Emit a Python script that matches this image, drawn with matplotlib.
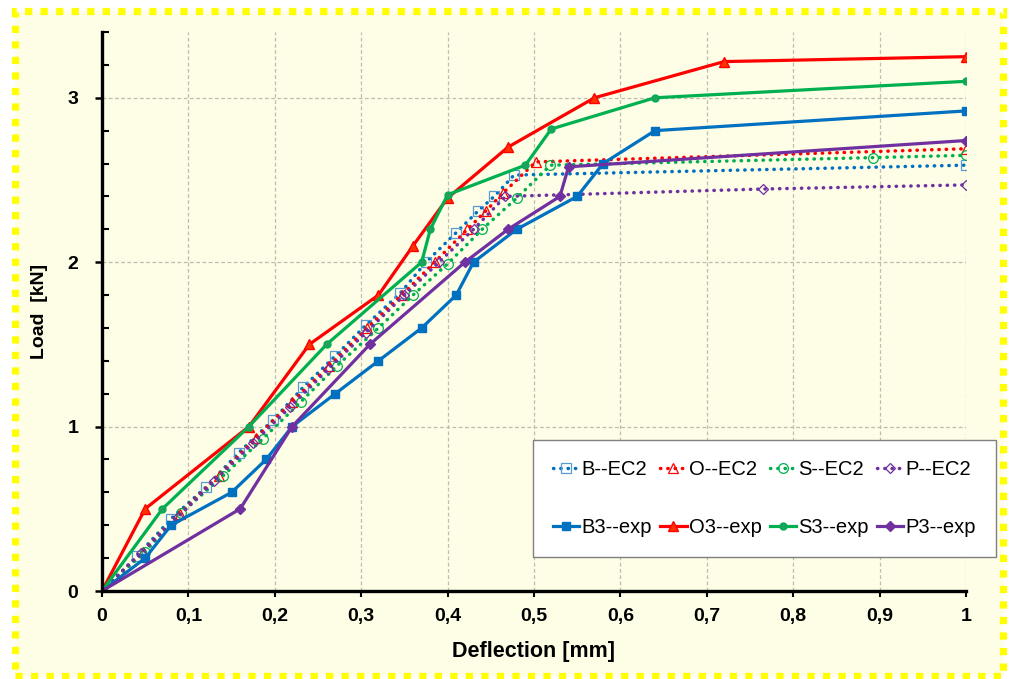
import matplotlib
matplotlib.use('Agg')
import matplotlib.pyplot as plt
from matplotlib.patches import Rectangle
from matplotlib.ticker import MultipleLocator, FuncFormatter

plt.rcParams['font.family'] = ['Liberation Sans', 'DejaVu Sans']

# experimental curves
b3_x = [0, 0.05, 0.08, 0.15, 0.19, 0.22, 0.27, 0.32, 0.37, 0.41, 0.43, 0.48, 0.55, 0.58, 0.64, 1.0]
b3_y = [0, 0.2, 0.4, 0.6, 0.8, 1.0, 1.2, 1.4, 1.6, 1.8, 2.0, 2.2, 2.4, 2.6, 2.8, 2.92]
o3_x = [0, 0.05, 0.17, 0.24, 0.32, 0.36, 0.40, 0.47, 0.57, 0.72, 1.0]
o3_y = [0, 0.5, 1.0, 1.5, 1.8, 2.1, 2.39, 2.7, 3.0, 3.22, 3.25]
s3_x = [0, 0.07, 0.17, 0.26, 0.37, 0.38, 0.40, 0.49, 0.52, 0.64, 1.0]
s3_y = [0, 0.5, 1.0, 1.5, 2.0, 2.2, 2.41, 2.59, 2.81, 3.0, 3.10]
p3_x = [0, 0.16, 0.22, 0.31, 0.42, 0.47, 0.53, 0.54, 1.0]
p3_y = [0, 0.5, 1.0, 1.5, 2.0, 2.2, 2.4, 2.58, 2.74]

# EC2 curves
b_ec2_x = [0, 0.04, 0.08, 0.12, 0.158, 0.198, 0.233, 0.27, 0.306, 0.345, 0.375, 0.41, 0.435, 0.454, 0.477, 1.0]
b_ec2_y = [0, 0.21, 0.44, 0.63, 0.84, 1.04, 1.24, 1.43, 1.62, 1.81, 2.0, 2.18, 2.31, 2.40, 2.53, 2.59]
o_ec2_x = [0, 0.047, 0.09, 0.135, 0.178, 0.22, 0.263, 0.307, 0.347, 0.385, 0.423, 0.444, 0.464, 0.502, 1.0]
o_ec2_y = [0, 0.24, 0.47, 0.70, 0.93, 1.15, 1.37, 1.60, 1.80, 2.00, 2.20, 2.31, 2.42, 2.61, 2.69]
s_ec2_x = [0, 0.05, 0.092, 0.14, 0.186, 0.23, 0.272, 0.32, 0.36, 0.40, 0.44, 0.48, 0.519, 0.892, 1.0]
s_ec2_y = [0, 0.24, 0.475, 0.70, 0.925, 1.15, 1.37, 1.60, 1.80, 1.99, 2.20, 2.39, 2.59, 2.636, 2.65]
p_ec2_x = [0, 0.045, 0.088, 0.13, 0.175, 0.218, 0.262, 0.305, 0.35, 0.39, 0.43, 0.467, 0.765, 1.0]
p_ec2_y = [0, 0.23, 0.45, 0.67, 0.90, 1.12, 1.35, 1.57, 1.80, 2.00, 2.20, 2.40, 2.445, 2.47]

blue = '#0070C0'
red = '#FF0000'
green = '#00B050'
purple = '#7030A0'
bg = '#FEFDE6'

fig = plt.figure(figsize=(10.09, 6.79), dpi=100)
fig.patch.set_facecolor('white')

# yellow dotted frame
W, H = 1009, 679
frame = Rectangle((15 / W, 3 / H), 988 / W, 665 / H, transform=fig.transFigure,
                  facecolor=bg, edgecolor='#FFFF00', linewidth=5.2,
                  linestyle=(0, (1, 1.15)), zorder=-10)
fig.patches.append(frame)

ax = fig.add_axes([102 / W, 1 - 591 / H, 864 / W, 559 / H])
ax.set_zorder(1)
ax.set_facecolor('none')

dot = (0, (0.1, 2.0))
lw_ec2 = 2.5
ec2_lines = []
ec2_lines.append(ax.plot(b_ec2_x, b_ec2_y, color=blue, linestyle=dot, lw=lw_ec2, dash_capstyle='round',
        marker='s', ms=6.5, mfc='none', mec='#5B9BD5', mew=0.9, label='B--EC2', zorder=3)[0])
ec2_lines.append(ax.plot(o_ec2_x, o_ec2_y, color=red, linestyle=dot, lw=lw_ec2, dash_capstyle='round',
        marker='^', ms=7, mfc='none', mec=red, mew=0.9, label='O--EC2', zorder=3)[0])
ec2_lines.append(ax.plot(s_ec2_x, s_ec2_y, color=green, linestyle=dot, lw=lw_ec2, dash_capstyle='round',
        marker='o', ms=7, mfc='none', mec=green, mew=0.9, label='S--EC2', zorder=3)[0])
ec2_lines.append(ax.plot(p_ec2_x, p_ec2_y, color=purple, linestyle=dot, lw=lw_ec2, dash_capstyle='round',
        marker='D', ms=5, mfc='none', mec=purple, mew=0.9, label='P--EC2', zorder=3)[0])

lw_exp = 2.3
exp_lines = []
exp_lines.append(ax.plot(b3_x, b3_y, color=blue, lw=lw_exp, marker='s', ms=6, label='B3--exp', zorder=4)[0])
exp_lines.append(ax.plot(o3_x, o3_y, color=red, lw=lw_exp, marker='^', ms=7, mfc='#FF3300',
                         label='O3--exp', zorder=4)[0])
exp_lines.append(ax.plot(s3_x, s3_y, color=green, lw=lw_exp, marker='o', ms=5, mfc='#22A060',
                         label='S3--exp', zorder=4)[0])
exp_lines.append(ax.plot(p3_x, p3_y, color=purple, lw=lw_exp, marker='D', ms=5, label='P3--exp', zorder=4)[0])

ax.set_xlim(0, 1)
ax.set_ylim(0, 3.4)
ax.xaxis.set_major_locator(MultipleLocator(0.1))
ax.yaxis.set_major_locator(MultipleLocator(1))
ax.yaxis.set_minor_locator(MultipleLocator(0.2))

comma = FuncFormatter(lambda v, p: ('%g' % round(v, 2)).replace('.', ','))
ax.xaxis.set_major_formatter(comma)
ax.yaxis.set_major_formatter(comma)

ax.grid(True, axis='x', color='#BDBDB0', linestyle=(0, (3, 2)), lw=0.9, zorder=1)
ax.grid(True, axis='y', which='major', color='#BDBDB0', linestyle=(0, (3, 2)), lw=0.9, zorder=1)

for s in ['top', 'right']:
    ax.spines[s].set_visible(False)
for s in ['left', 'bottom']:
    ax.spines[s].set_linewidth(2.4)
    ax.spines[s].set_zorder(5)

ax.tick_params(axis='x', which='major', direction='out', length=4, width=1.5, pad=8,
               labelsize=14)
ax.tick_params(axis='y', which='major', direction='out', length=5, width=1.8, pad=12,
               labelsize=14)
ax.tick_params(axis='y', which='minor', direction='in', length=5, width=1.5)
for lbl in ax.get_xticklabels() + ax.get_yticklabels():
    lbl.set_fontweight('bold')

ax.set_xlabel('Deflection [mm]', fontsize=15.5, fontweight='bold', labelpad=12)
ax.set_ylabel('Load  [kN]', fontsize=14, fontweight='bold', labelpad=14)

# legend filled row by row: EC2 entries on top, experiments below
handles = []
for a, b in zip(ec2_lines, exp_lines):
    handles += [a, b]
leg = ax.legend(handles=handles, labels=[h.get_label() for h in handles],
                ncol=4, loc='center', mode='expand',
                bbox_to_anchor=(533 / W, 1 - 559 / H, 463 / W, 121 / H),
                bbox_transform=fig.transFigure, fontsize=14.5, frameon=True,
                fancybox=False, edgecolor='#808080', framealpha=1,
                handlelength=1.3, handletextpad=0.1, columnspacing=0.6,
                labelspacing=1.9, borderpad=1.0, borderaxespad=0)
leg.get_frame().set_linewidth(1.0)
leg.set_zorder(6)

fig.savefig('out.png', dpi=100, facecolor=fig.get_facecolor())
